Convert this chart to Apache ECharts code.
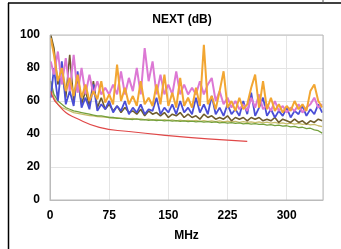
<!DOCTYPE html>
<html>
<head>
<meta charset="utf-8">
<script src="https://cdn.jsdelivr.net/npm/echarts@6/dist/echarts.min.js"></script>
<style>
  html, body { margin: 0; padding: 0; background: #fff; }
  #chart { width: 341px; height: 249px; }
</style>
</head>
<body>
<div id="chart"></div>
<script>
// frequency points (MHz)
const freq = [1, 5, 10, 15, 20, 25, 30, 35, 40, 45, 50, 55, 60, 65, 70, 75, 80, 85, 90, 95,
  100, 105, 110, 115, 120, 125, 130, 135, 140, 145, 150, 155, 160, 165, 170, 175, 180, 185, 190, 195,
  200, 205, 210, 215, 220, 225, 230, 235, 240, 245, 250, 255, 260, 265, 270, 275, 280, 285, 290, 295,
  300, 305, 310, 315, 320, 325, 330, 335, 340, 345]

const orangePair = [98, 88, 72, 80, 66, 74, 63, 76, 62, 70, 60, 66, 61, 72, 59, 64, 58, 82, 60, 68,
  58, 63, 57, 72, 58, 62, 57, 70, 58, 76, 57, 65, 56, 74, 57, 62, 56, 68, 57, 94,
  58, 63, 55, 66, 78, 56, 60, 54, 62, 55, 58, 68, 76, 56, 72, 55, 62, 54, 58, 53,
  57, 54, 60, 55, 58, 54, 66, 70, 60, 56]

const violetPair = [84, 76, 90, 70, 86, 66, 88, 65, 80, 64, 76, 64, 72, 64, 68, 64, 70, 64, 78, 64,
  74, 66, 80, 64, 92, 72, 84, 64, 76, 64, 70, 64, 78, 64, 70, 64, 68, 64, 72, 64,
  70, 74, 60, 66, 58, 62, 56, 60, 55, 58, 54, 62, 56, 64, 55, 58, 54, 60, 54, 57,
  53, 56, 54, 58, 53, 56, 58, 62, 56, 58]

const bluePair = [62, 80, 60, 84, 58, 66, 57, 78, 56, 62, 55, 70, 54, 58, 55, 60, 53, 57, 54, 60,
  52, 56, 53, 58, 52, 55, 54, 62, 52, 56, 53, 58, 52, 60, 53, 56, 52, 62, 53, 58,
  52, 63, 52, 56, 51, 58, 52, 55, 51, 60, 52, 65, 51, 56, 62, 51, 55, 50, 54, 51,
  56, 50, 54, 52, 57, 51, 55, 52, 58, 53]

const olivePair = [100, 92, 70, 80, 62, 88, 60, 74, 58, 66, 57, 72, 56, 62, 55, 58, 54, 57, 53, 56,
  53, 54, 52, 55, 51, 54, 52, 53, 51, 53, 50, 52, 51, 53, 50, 52, 50, 51, 49, 52,
  50, 51, 49, 50, 49, 51, 48, 50, 49, 50, 48, 50, 49, 50, 48, 49, 48, 50, 47, 49,
  48, 47, 49, 47, 48, 46, 48, 47, 49, 48]

const khakiPair = [70, 62, 58, 56, 55, 54, 53, 52.5, 52, 51.6, 51.2, 51, 50.6, 50.4, 50.2, 50, 49.7, 49.9, 49.4, 49.6,
  49.1, 49.4, 48.9, 49.2, 48.7, 49, 48.5, 48.9, 48.3, 48.7, 48.2, 48.6, 48, 48.4, 47.9, 48.3, 47.8, 48.2, 47.7, 48.1,
  47.6, 48, 47.5, 47.9, 47.4, 47.8, 47.3, 47.6, 47.1, 47.5, 47, 47.4, 46.9, 47.3, 46.8, 47.2, 46.6, 47, 46.4, 46.8,
  46.2, 46.6, 46, 46.4, 45.8, 46.2, 45.5, 45.8, 45, 44.5]

const greenPair = [72, 64, 60, 58, 56, 55, 54, 53.5, 53, 52.5, 52, 51.5, 51, 51, 50.5, 50, 50, 49.5, 49.5, 49,
  49, 48.8, 49.2, 48.5, 48.7, 48.3, 48.6, 48.1, 48.4, 47.9, 48.2, 47.8, 48.1, 47.6, 47.9, 47.5, 47.8, 47.3, 47.6, 47.2,
  47.5, 47, 47.3, 46.8, 47.1, 46.6, 46.9, 46.4, 46.7, 46.2, 46.5, 46, 46.3, 45.8, 46, 45.4, 45.7, 45.1, 45.4, 44.8,
  45, 44.3, 44.6, 43.8, 44.1, 43.2, 43.5, 42.5, 42, 40.5]

// limit line
const limitFreq = [1, 5, 10, 20, 31.25, 62.5, 100, 150, 200, 250]
const limitVal = [66, 61, 58, 53, 50, 44, 41.5, 39, 37, 35.5]

const pairs = (xs, ys) => xs.map((x, i) => [x, ys[i]])

const chart = echarts.init(document.getElementById('chart'))

const lbl = {
  color: '#000',
  fontFamily: 'Liberation Sans',
  fontWeight: 'bold',
  fontSize: 12,
}

function line(name, color, data, width) {
  return {
    name,
    type: 'line',
    data,
    showSymbol: false,
    animation: false,
    lineStyle: { color, width: width || 1 },
    z: 2,
  }
}

chart.setOption({
  animation: false,
  title: {
    text: 'NEXT (dB)',
    left: 177,
    top: 9,
    textAlign: 'center',
    textStyle: { ...lbl, fontSize: 12 },
  },
  grid: { left: 50, right: 18, top: 35, bottom: 49 },
  xAxis: {
    type: 'value',
    min: 0,
    max: 346,
    interval: 75,
    name: 'MHz',
    nameLocation: 'middle',
    nameGap: 30,
    nameTextStyle: lbl,
    axisLine: { show: true, lineStyle: { color: '#bbb' } },
    axisTick: { show: false },
    axisLabel: { ...lbl, margin: 10, showMaxLabel: false },
    splitLine: { show: true, lineStyle: { color: '#e4e4e4' } },
  },
  yAxis: {
    type: 'value',
    min: 0,
    max: 100,
    interval: 20,
    axisLine: { show: true, lineStyle: { color: '#bbb' } },
    axisTick: { show: false },
    axisLabel: { ...lbl, margin: 10 },
    splitLine: { show: true, lineStyle: { color: '#e4e4e4' } },
  },
  graphic: [
    { type: 'line', shape: { x1: 8.5, y1: 3, x2: 8.5, y2: 249 }, style: { stroke: '#000', lineWidth: 1.5 } },
    { type: 'line', shape: { x1: 8, y1: 3, x2: 341, y2: 3 }, style: { stroke: '#000', lineWidth: 1.5 } },
    { type: 'line', shape: { x1: 323, y1: 0, x2: 323, y2: 3 }, style: { stroke: '#555', lineWidth: 1 } },
    { type: 'rect', shape: { x: 50, y: 35, width: 273, height: 165 }, style: { fill: 'none', stroke: '#bbb', lineWidth: 1 }, z: 10 },
  ],
  series: [
    line('khaki', '#c8bc6a', pairs(freq, khakiPair), 1.3),
    line('green', '#74a03c', pairs(freq, greenPair), 1.3),
    line('olive', '#6e5c2c', pairs(freq, olivePair), 1.6),
    line('blue', '#4a4ed6', pairs(freq, bluePair), 1.8),
    line('violet', '#dc78d4', pairs(freq, violetPair), 2),
    line('orange', '#f2a632', pairs(freq, orangePair), 2),
    { ...line('limit', '#e04848', pairs(limitFreq, limitVal), 1.2), smooth: true },
  ],
})
</script>
</body>
</html>
